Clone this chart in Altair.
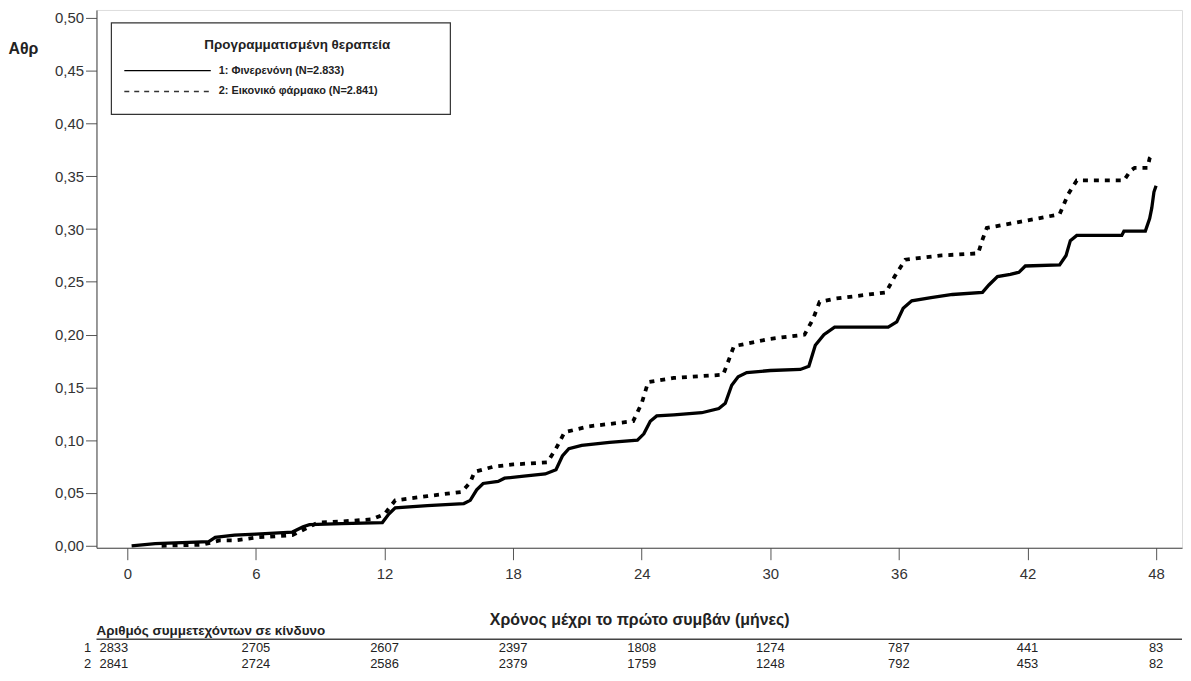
import altair as alt
import pandas as pd

FONT = "Liberation Sans"

# ---- data ----
solid_month = [0.2, 1.3, 3.8, 4.1, 5.0, 6.0, 7.7, 8.2, 8.5, 10.0, 11.9, 12.2, 12.5, 14.0, 15.7,
               16.0, 16.3, 16.6, 17.3, 17.6, 18.5, 19.5, 20.0, 20.3, 20.6, 21.2, 22.5, 23.8,
               24.1, 24.4, 24.7, 25.5, 26.8, 27.6, 27.9, 28.2, 28.5, 28.9, 30.0, 31.4, 31.8,
               32.1, 32.5, 33.0, 35.5, 35.9, 36.2, 36.6, 37.5, 38.5, 39.9, 40.2, 40.6, 41.2,
               41.6, 41.9, 43.5, 43.8, 44.0, 44.3, 46.4, 46.5, 47.5, 47.7, 47.8, 47.9, 48.0]
solid_risk = [0.000, 0.002, 0.004, 0.008, 0.010, 0.011, 0.013, 0.018, 0.020, 0.021, 0.022, 0.030,
              0.036, 0.038, 0.040, 0.043, 0.053, 0.059, 0.061, 0.064, 0.066, 0.068, 0.072, 0.085,
              0.092, 0.095, 0.098, 0.100, 0.106, 0.118, 0.123, 0.124, 0.126, 0.130, 0.135, 0.152,
              0.160, 0.164, 0.166, 0.167, 0.170, 0.190, 0.200, 0.207, 0.207, 0.212, 0.225, 0.232,
              0.235, 0.238, 0.240, 0.247, 0.255, 0.257, 0.259, 0.265, 0.266, 0.275, 0.289, 0.294,
              0.294, 0.298, 0.298, 0.310, 0.320, 0.335, 0.341]

dashed_month = [1.6, 3.5, 4.3, 5.0, 6.1, 7.7, 8.3, 8.9, 10.0, 11.4, 12.0, 12.5, 14.0, 15.6, 16.0,
                16.2, 17.1, 18.0, 19.6, 20.0, 20.4, 21.5, 23.6, 24.0, 24.3, 25.5, 27.8, 28.1,
                28.3, 30.0, 31.6, 32.0, 32.3, 33.0, 35.4, 35.8, 36.3, 38.0, 39.7, 39.9, 40.1,
                41.7, 43.5, 43.9, 44.3, 46.5, 46.8, 47.0, 47.6, 47.7, 47.8]
dashed_risk = [0.000, 0.001, 0.005, 0.005, 0.008, 0.010, 0.016, 0.022, 0.023, 0.025, 0.030, 0.043,
               0.047, 0.051, 0.060, 0.070, 0.075, 0.077, 0.079, 0.092, 0.1075, 0.113, 0.118, 0.135,
               0.155, 0.159, 0.162, 0.178, 0.189, 0.196, 0.200, 0.215, 0.231, 0.234, 0.240, 0.255,
               0.271, 0.275, 0.277, 0.290, 0.301, 0.307, 0.314, 0.333, 0.346, 0.346, 0.355, 0.358,
               0.358, 0.367, 0.370]

table_months = [0, 6, 12, 18, 24, 30, 36, 42, 48]
row1_counts = [2833, 2705, 2607, 2397, 1808, 1274, 787, 441, 83]
row2_counts = [2841, 2724, 2586, 2379, 1759, 1248, 792, 453, 82]
row_labels = ["1", "2"]

x_ticks = [0, 6, 12, 18, 24, 30, 36, 42, 48]
y_ticks = [0.0, 0.05, 0.10, 0.15, 0.20, 0.25, 0.30, 0.35, 0.40, 0.45, 0.50]

legend_title = "Προγραμματισμένη θεραπεία"
legend_labels = ["1: Φινερενόνη (N=2.833)", "2: Εικονικό φάρμακο (N=2.841)"]
x_title = "Χρόνος μέχρι το πρώτο συμβάν (μήνες)"
y_title = "Αθρ"
table_title = "Αριθμός συμμετεχόντων σε κίνδυνο"

W, H = 1092, 541

solid_df = pd.DataFrame({"month": solid_month, "risk": solid_risk})
dashed_df = pd.DataFrame({"month": dashed_month, "risk": dashed_risk})
table_df = pd.DataFrame({"month": table_months, "n1": row1_counts, "n2": row2_counts})
one = pd.DataFrame({"k": [0]})

xscale = alt.Scale(domain=[-1.44, 49.21], nice=False, zero=False)
yscale = alt.Scale(domain=[-0.0019, 0.5075], nice=False, zero=False)

x_axis = alt.Axis(values=x_ticks, title=x_title, grid=False, tickSize=12, labelFontSize=15,
                  labelPadding=7, labelFont=FONT, labelColor="#333", titleFont=FONT,
                  titleFontSize=16, titleFontWeight="bold", titleColor="#222", titleY=72,
                  titleBaseline="middle", domainColor="#444", tickColor="#555")
y_axis = alt.Axis(values=y_ticks, title=y_title, grid=False, tickSize=11, labelFontSize=15,
                  labelPadding=2, labelFont=FONT, labelColor="#333",
                  labelExpr="replace(format(datum.value, '.2f'), '.', ',')",
                  titleFont=FONT, titleFontSize=16, titleFontWeight="bold", titleColor="#222",
                  titleAngle=0, titleAlign="left", titleBaseline="middle", titleX=-89, titleY=39,
                  domainColor="#444", tickColor="#555")

X = alt.X("month:Q", scale=xscale, axis=x_axis)
Y = alt.Y("risk:Q", scale=yscale, axis=y_axis)

solid = alt.Chart(solid_df).mark_line(color="black", strokeWidth=3.3, interpolate="linear").encode(
    x=X, y=Y)
dashed = alt.Chart(dashed_df).mark_line(color="black", strokeWidth=3.8, strokeDash=[5, 6],
                                        interpolate="linear").encode(x=X, y=Y)

# legend box
leg_box = alt.Chart(one).mark_rect(fill="white", stroke="#333", strokeWidth=1.2).encode(
    x=alt.value(15), x2=alt.value(356), y=alt.value(13), y2=alt.value(105))
leg_title = alt.Chart(one).mark_text(font=FONT, fontSize=13.5, fontWeight="bold", color="#222",
                                     align="center", baseline="middle").encode(
    x=alt.value(202), y=alt.value(35), text=alt.value(legend_title))
leg_line1 = alt.Chart(one).mark_rule(color="black", strokeWidth=1.3).encode(
    x=alt.value(28), x2=alt.value(115), y=alt.value(61))
leg_line2 = alt.Chart(one).mark_rule(color="#333", strokeWidth=1.3, strokeDash=[5, 5]).encode(
    x=alt.value(28), x2=alt.value(115), y=alt.value(82))
leg_text1 = alt.Chart(one).mark_text(font=FONT, fontSize=11, fontWeight="bold", color="#222",
                                     align="left", baseline="middle").encode(
    x=alt.value(123), y=alt.value(61), text=alt.value(legend_labels[0]))
leg_text2 = alt.Chart(one).mark_text(font=FONT, fontSize=11, fontWeight="bold", color="#222",
                                     align="left", baseline="middle").encode(
    x=alt.value(123), y=alt.value(82), text=alt.value(legend_labels[1]))

# risk table
tbl_title = alt.Chart(one).mark_text(font=FONT, fontSize=13.5, fontWeight="bold", color="#222",
                                     align="left", baseline="middle").encode(
    x=alt.value(0), y=alt.value(625), text=alt.value(table_title))
tbl_rule = alt.Chart(one).mark_rule(color="#444", strokeWidth=1.5).encode(
    x=alt.value(0), x2=alt.value(W), y=alt.value(633))


def risk_row(field, ypix, label):
    base = alt.Chart(table_df)
    mid = base.transform_filter("datum.month > 0").mark_text(
        font=FONT, fontSize=13, color="#222", align="center", baseline="middle").encode(
        x=X, y=alt.value(ypix), text=alt.Text(f"{field}:Q", format="d"))
    first = base.transform_filter("datum.month == 0").mark_text(
        font=FONT, fontSize=13, color="#222", align="left", baseline="middle", dx=-28).encode(
        x=X, y=alt.value(ypix), text=alt.Text(f"{field}:Q", format="d"))
    lab = alt.Chart(one).mark_text(font=FONT, fontSize=13, color="#222", align="center",
                                   baseline="middle").encode(
        x=alt.value(-9), y=alt.value(ypix), text=alt.value(label))
    return [mid, first, lab]


layers = [solid, dashed, leg_box, leg_title, leg_line1, leg_line2, leg_text1, leg_text2,
          tbl_title, tbl_rule] + risk_row("n1", 642, row_labels[0]) + risk_row("n2", 658, row_labels[1])

chart = alt.layer(*layers).properties(width=W, height=H, padding=0).configure_view(
    stroke="#555", strokeWidth=1).configure(background="white")

chart.save("out.html", embed_options={"renderer": "svg", "actions": False})
